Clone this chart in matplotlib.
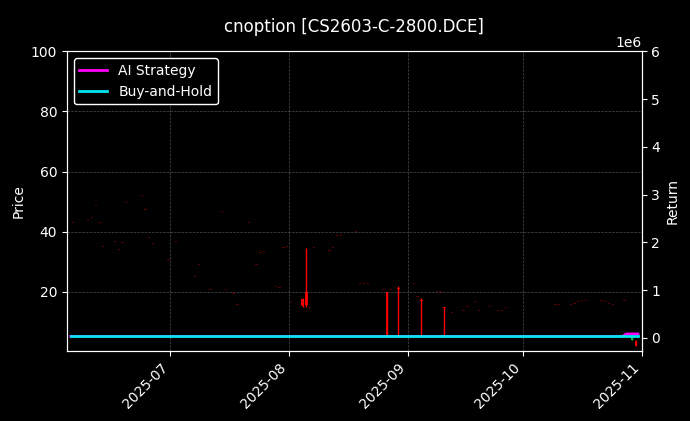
import pandas as pd
import matplotlib.pyplot as plt
import matplotlib.dates as mdates

# OHLC (sparse trading days, illiquid option)
dates = ["2025-06-05", "2025-06-09", "2025-06-10", "2025-06-11", "2025-06-12", "2025-06-13",
         "2025-06-16", "2025-06-17", "2025-06-18", "2025-06-19", "2025-06-23", "2025-06-24",
         "2025-06-25", "2025-06-26", "2025-06-30", "2025-07-02", "2025-07-07", "2025-07-08",
         "2025-07-11", "2025-07-14", "2025-07-15", "2025-07-17", "2025-07-18", "2025-07-21",
         "2025-07-23", "2025-07-24", "2025-07-25", "2025-07-28", "2025-07-29", "2025-07-30",
         "2025-07-31", "2025-08-01", "2025-08-04", "2025-08-05", "2025-08-06", "2025-08-07",
         "2025-08-11", "2025-08-12", "2025-08-13", "2025-08-14", "2025-08-18", "2025-08-19",
         "2025-08-20", "2025-08-21", "2025-08-25", "2025-08-26", "2025-08-27", "2025-08-29",
         "2025-09-02", "2025-09-03", "2025-09-04", "2025-09-08", "2025-09-09", "2025-09-10",
         "2025-09-12", "2025-09-15", "2025-09-16", "2025-09-18", "2025-09-19", "2025-09-22",
         "2025-09-24", "2025-09-25", "2025-09-26", "2025-10-09", "2025-10-10", "2025-10-13",
         "2025-10-14", "2025-10-15", "2025-10-16", "2025-10-17", "2025-10-21", "2025-10-22",
         "2025-10-23", "2025-10-24", "2025-10-27", "2025-10-29", "2025-10-30"]
close = [43, 44, 44.7, 48.7, 43, 35, 36.7, 34, 36.3, 49.7, 52, 47.3, 38, 36, 30.7, 36.7,
         25, 29, 20.7, 46.7, 20.7, 19.3, 15.7, 43, 29, 33, 33.3, 21.7, 21.3, 34.7, 35, 16.7,
         15.3, 15.7, 14.7, 34.7, 33.7, 34.7, 38.7, 38.7, 40, 22.7, 22.7, 22.7, 20.7, 5.3,
         20.7, 21, 22.7, 18.3, 17, 20, 20, 14.7, 13, 13.7, 15, 16.7, 13.7, 15, 13.7, 13.7,
         14.7, 15.7, 15.7, 15.7, 16, 16.7, 17, 17, 17, 16.7, 16, 15.7, 17, 6, 2]
opens = list(close)
highs = list(close)
lows = list(close)
# the few days with real ranges
special = {
    "2025-08-04": (17.5, 15.3, 18, 15),
    "2025-08-05": (20, 15.7, 34.7, 15),
    "2025-08-26": (20, 5.3, 20, 5.3),
    "2025-08-29": (21.3, 21, 22, 5.3),
    "2025-09-04": (17.3, 17, 18, 5.3),
    "2025-09-10": (15, 14.7, 15, 5.3),
    "2025-10-29": (4, 6, 6.3, 3.8),
    "2025-10-30": (3.7, 2, 3.8, 1.9),
}
for i, d in enumerate(dates):
    if d in special:
        opens[i], close[i], highs[i], lows[i] = special[d]
    else:
        opens[i] = close[i] + 0.3

line_dates = ["2025-06-05", "2025-10-27", "2025-10-28", "2025-10-31"]
ai_strategy = [30000, 30000, 80000, 80000]
buy_hold = [30000, 30000, 30000, 30000]

df = pd.DataFrame({"date": pd.to_datetime(dates), "open": opens, "high": highs,
                   "low": lows, "close": close})

plt.style.use("dark_background")
fig, ax = plt.subplots(figsize=(6.9, 4.21), dpi=100)
ax2 = ax.twinx()

for _, r in df.iterrows():
    col = "#00cc44" if r["close"] > r["open"] else "red"
    big = r["high"] - r["low"] > 1
    ax.vlines(r["date"] + pd.Timedelta(hours=12), r["low"], r["high"], color=col,
              linewidth=1, alpha=1 if big else 0.4)
    bot = min(r["open"], r["close"])
    h = max(abs(r["close"] - r["open"]), 0.3)
    ax.bar(r["date"] + pd.Timedelta(hours=12), h, bottom=bot, width=0.6, color=col,
           alpha=0.9 if big else 0.35, linewidth=0)

ld = pd.to_datetime(line_dates)
ax2.plot(ld, ai_strategy, color="#ff00ff", linewidth=2, label="AI Strategy")
ax2.plot(ld, buy_hold, color="#00e5ee", linewidth=2, label="Buy-and-Hold")

ax.set_ylim(0.4, 100)
ax.set_yticks([20, 40, 60, 80, 100])
ax2.set_ylim(-0.27e6, 6e6)
ax.set_xlim(pd.Timestamp("2025-06-04"), pd.Timestamp("2025-11-01"))
ax.xaxis.set_major_locator(mdates.MonthLocator())
ax.xaxis.set_major_formatter(mdates.DateFormatter("%Y-%m"))
plt.setp(ax.get_xticklabels(), rotation=45, ha="right")
ax.grid(True, linestyle="--", linewidth=0.5, color="gray", alpha=0.6)
ax.set_ylabel("Price")
ax2.set_ylabel("Return")
ax.set_title("cnoption [CS2603-C-2800.DCE]", pad=14)
ax2.legend(loc="upper left", facecolor="black", edgecolor="white", framealpha=1)

plt.subplots_adjust(left=0.097, right=0.93, top=0.878, bottom=0.167)
plt.savefig("out.png", dpi=100)
